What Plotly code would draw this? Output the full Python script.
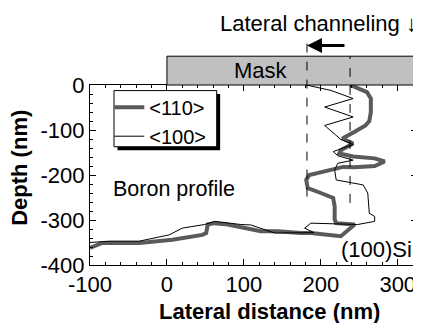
import plotly.graph_objects as go

# <110> profile (thick grey)
x110 = [238, 246, 260, 265, 265, 263, 258, 244, 228, 242, 226, 224, 242, 270, 283, 270, 244, 229,
        213, 185, 181, 183, 200, 216, 218, 218, 220, 244, 226, 187, 174, 144, 122, 100, 79, 62,
        53, 51, 46, 7, -36, -84, -100]
y110 = [0, -5, -16, -30, -60, -80, -90, -104, -119, -130, -145, -152, -159, -163, -170, -180, -183, -182,
        -189, -200, -211, -229, -240, -251, -270, -299, -307, -310, -336, -329, -329, -325, -325, -318, -310, -307,
        -310, -329, -333, -344, -351, -351, -362]

# <100> profile (thin black)
x100 = [181, 213, 242, 205, 242, 205, 226, 242, 216, 222, 242, 222, 218, 220, 255, 261, 263, 270,
        270, 248, 187, 179, 191, 161, 140, 109, 96, 62, 49, 20, 3, -36, -75, -100]
y100 = [0, -12, -30, -49, -71, -90, -121, -132, -148, -157, -167, -174, -189, -211, -222, -240, -285, -292,
        -303, -310, -307, -318, -328, -329, -329, -311, -310, -303, -310, -318, -333, -347, -347, -350]

x_tickvals = [-100, 0, 100, 200, 300]
x_ticktext = ["-100", "0", "100", "200", "300"]
y_tickvals = [0, -100, -200, -300, -400]
y_ticktext = ["0", "-100", "-200", "-300", "-400"]

mask_x = [0, 325]
dash_x = [182, 238]

FONT = "Liberation Sans, Arial, Helvetica, sans-serif"
FS = 22

fig = go.Figure()
fig.add_trace(go.Scatter(x=x110, y=y110, mode="lines", name="<110>",
                         line=dict(color="#5a5a5a", width=4)))
fig.add_trace(go.Scatter(x=x100, y=y100, mode="lines", name="<100>",
                         line=dict(color="black", width=1)))

axis_common = dict(showline=True, linecolor="black", linewidth=1, mirror="ticks",
                   ticks="inside", ticklen=6, tickcolor="black", showgrid=False,
                   zeroline=False, tickfont=dict(family=FONT, size=FS, color="black"))

fig.update_xaxes(range=[-100, 325], tickvals=x_tickvals, ticktext=x_ticktext,
                 minor=dict(dtick=20, tick0=0, ticks="inside", ticklen=3, tickcolor="black"),
                 **axis_common)
fig.update_yaxes(range=[-400, 0], tickvals=y_tickvals, ticktext=y_ticktext,
                 minor=dict(dtick=20, tick0=0, ticks="inside", ticklen=3, tickcolor="black"),
                 **axis_common)

shapes = []
# mask
shapes.append(dict(type="rect", xref="x", yref="paper", x0=mask_x[0], x1=mask_x[1], y0=1.0, y1=1.16,
                   fillcolor="#c0c0c0", line=dict(color="black", width=1), layer="above"))
# dashed lines
shapes.append(dict(type="line", xref="x", yref="paper", x0=dash_x[0], x1=dash_x[0], y0=0.38, y1=1.236,
                   line=dict(color="black", width=1, dash="dash"), layer="above"))
shapes.append(dict(type="line", xref="x", yref="paper", x0=dash_x[1], x1=dash_x[1], y0=0.345, y1=1.16,
                   line=dict(color="black", width=1, dash="dash"), layer="above"))
# legend shadow and frame
shapes.append(dict(type="rect", xref="paper", yref="paper", x0=0.084, x1=0.398, y0=0.637, y1=0.95,
                   fillcolor="black", line=dict(width=0), layer="above"))
shapes.append(dict(type="rect", xref="paper", yref="paper", x0=0.0734, x1=0.3875, y0=0.657, y1=0.969,
                   fillcolor="white", line=dict(color="black", width=1), layer="above"))
fig.update_layout(shapes=shapes)

annotations = [
    dict(text="Mask", x=122, y=1.08, xref="x", yref="paper", xanchor="center", yanchor="middle",
         showarrow=False, font=dict(family=FONT, size=FS, color="black")),
    dict(text="Lateral channeling \u2193", x=1.006, y=1.34, xref="paper", yref="paper",
         xanchor="right", yanchor="middle", showarrow=False,
         font=dict(family=FONT, size=FS, color="black")),
    dict(text="", x=dash_x[0], y=1.219, xref="x", yref="paper", ax=39, ay=0,
         showarrow=True, arrowhead=2, arrowsize=1, arrowwidth=3, arrowcolor="black", standoff=0),
    dict(text="Boron profile", x=-73, y=-230, xref="x", yref="y", xanchor="left", yanchor="middle",
         showarrow=False, font=dict(family=FONT, size=21.5, color="black")),
    dict(text="(100)Si", x=321, y=-366, xref="x", yref="y", xanchor="right", yanchor="middle",
         showarrow=False, font=dict(family=FONT, size=FS, color="black")),
    dict(text="<b>Lateral distance (nm)</b>", x=0.549, y=-0.257, xref="paper", yref="paper",
         xanchor="center", yanchor="middle", showarrow=False,
         font=dict(family=FONT, size=FS, color="black")),
    dict(text="<b>Depth (nm)</b>", x=-0.214, y=0.54, xref="paper", yref="paper", textangle=-90,
         xanchor="center", yanchor="middle", showarrow=False,
         font=dict(family=FONT, size=FS, color="black")),
]
fig.update_layout(annotations=annotations)

fig.update_layout(
    width=413, height=315,
    margin=dict(l=82, r=4, t=77, b=58),
    paper_bgcolor="white", plot_bgcolor="white",
    showlegend=True,
    legend=dict(x=0.059, y=0.985, xanchor="left", yanchor="top",
                bgcolor="rgba(0,0,0,0)", borderwidth=0,
                font=dict(family=FONT, size=20, color="black"),
                itemwidth=30, tracegroupgap=0),
)

fig.write_html("out.html")
